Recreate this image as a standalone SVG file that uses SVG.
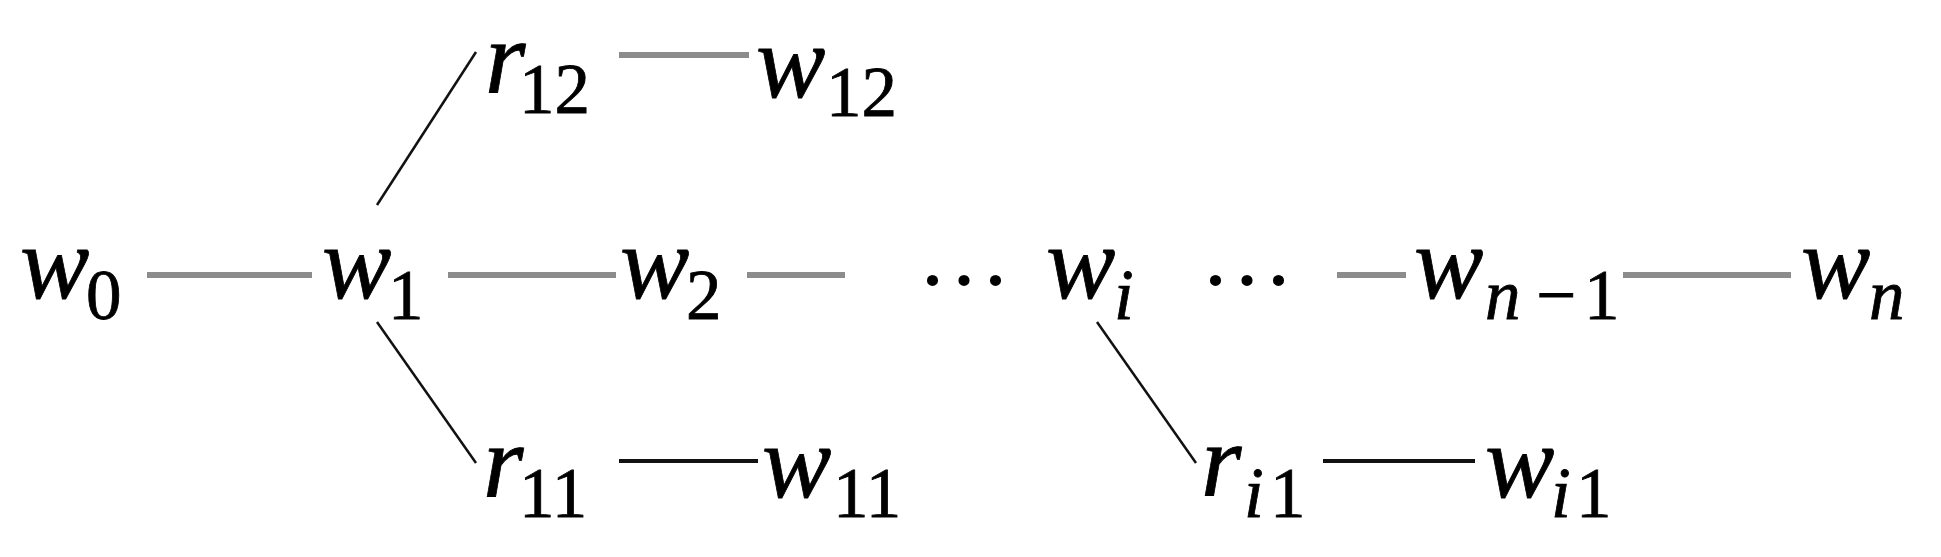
<svg xmlns="http://www.w3.org/2000/svg" width="1941" height="557" viewBox="0 0 1941 557">
<style>
text{font-family:"Liberation Serif",serif;fill:#000;stroke:#000;stroke-width:0.8}
.v{font-style:italic;font-size:104px}
.s{font-style:normal;font-size:71px}
.si{font-style:italic;font-size:71px}
.d{font-size:94px;stroke-width:0}
.g{stroke:#8c8c8c;stroke-width:6;fill:none}
.b{stroke:#111;stroke-width:4;fill:none}
.t{stroke:#111;stroke-width:2.5;fill:none}
</style>
<rect width="1941" height="557" fill="#fff"/>
<g id="connectors">
<line class="g" x1="147" y1="275" x2="312" y2="275"/>
<line class="g" x1="448" y1="275" x2="616" y2="275"/>
<line class="g" x1="747" y1="275" x2="845" y2="275"/>
<line class="g" x1="1337" y1="275" x2="1406" y2="275"/>
<line class="g" x1="1623" y1="275" x2="1791" y2="275"/>
<line class="g" x1="619" y1="55" x2="749" y2="55"/>
<line class="b" x1="619" y1="461" x2="758" y2="461"/>
<line class="b" x1="1323" y1="461" x2="1475" y2="461"/>
<line class="t" x1="377" y1="205" x2="476" y2="52"/>
<line class="t" x1="377" y1="322" x2="476" y2="463"/>
<line class="t" x1="1097" y1="322" x2="1196" y2="463"/>
</g>
<g id="w0"><text class="v" x="20" y="298">w<tspan class="s" x="86" y="319">0</tspan></text></g>
<g id="w1"><text class="v" x="322" y="298">w<tspan class="s" x="388" y="319">1</tspan></text></g>
<g id="w2"><text class="v" x="620" y="298">w<tspan class="s" x="686" y="319">2</tspan></text></g>
<g id="dots1"><text class="d" x="917" y="285">…</text></g>
<g id="wi"><text class="v" x="1046" y="298">w<tspan class="si" x="1114" y="319">i</tspan></text></g>
<g id="dots2"><text class="d" x="1200" y="285">…</text></g>
<g id="wn1"><text class="v" x="1414" y="298">w<tspan class="si" x="1485" y="319">n</tspan><tspan class="s" x="1536">−</tspan><tspan class="s" x="1584">1</tspan></text></g>
<g id="wn"><text class="v" x="1801" y="298">w<tspan class="si" x="1869" y="319">n</tspan></text></g>
<g id="r12"><text class="v" x="485" y="93">r<tspan class="s" x="519" y="113">12</tspan></text></g>
<g id="w12"><text class="v" x="756" y="97">w<tspan class="s" x="826" y="116">12</tspan></text></g>
<g id="r11"><text class="v" x="483" y="497">r<tspan class="s" x="519" y="517">11</tspan></text></g>
<g id="w11"><text class="v" x="762" y="497">w<tspan class="s" x="833" y="517">11</tspan></text></g>
<g id="ri1"><text class="v" x="1201" y="496">r<tspan class="si" x="1244" y="517">i</tspan><tspan class="s" x="1270">1</tspan></text></g>
<g id="wi1"><text class="v" x="1485" y="497">w<tspan class="si" x="1551" y="517">i</tspan><tspan class="s" x="1576">1</tspan></text></g>
</svg>
